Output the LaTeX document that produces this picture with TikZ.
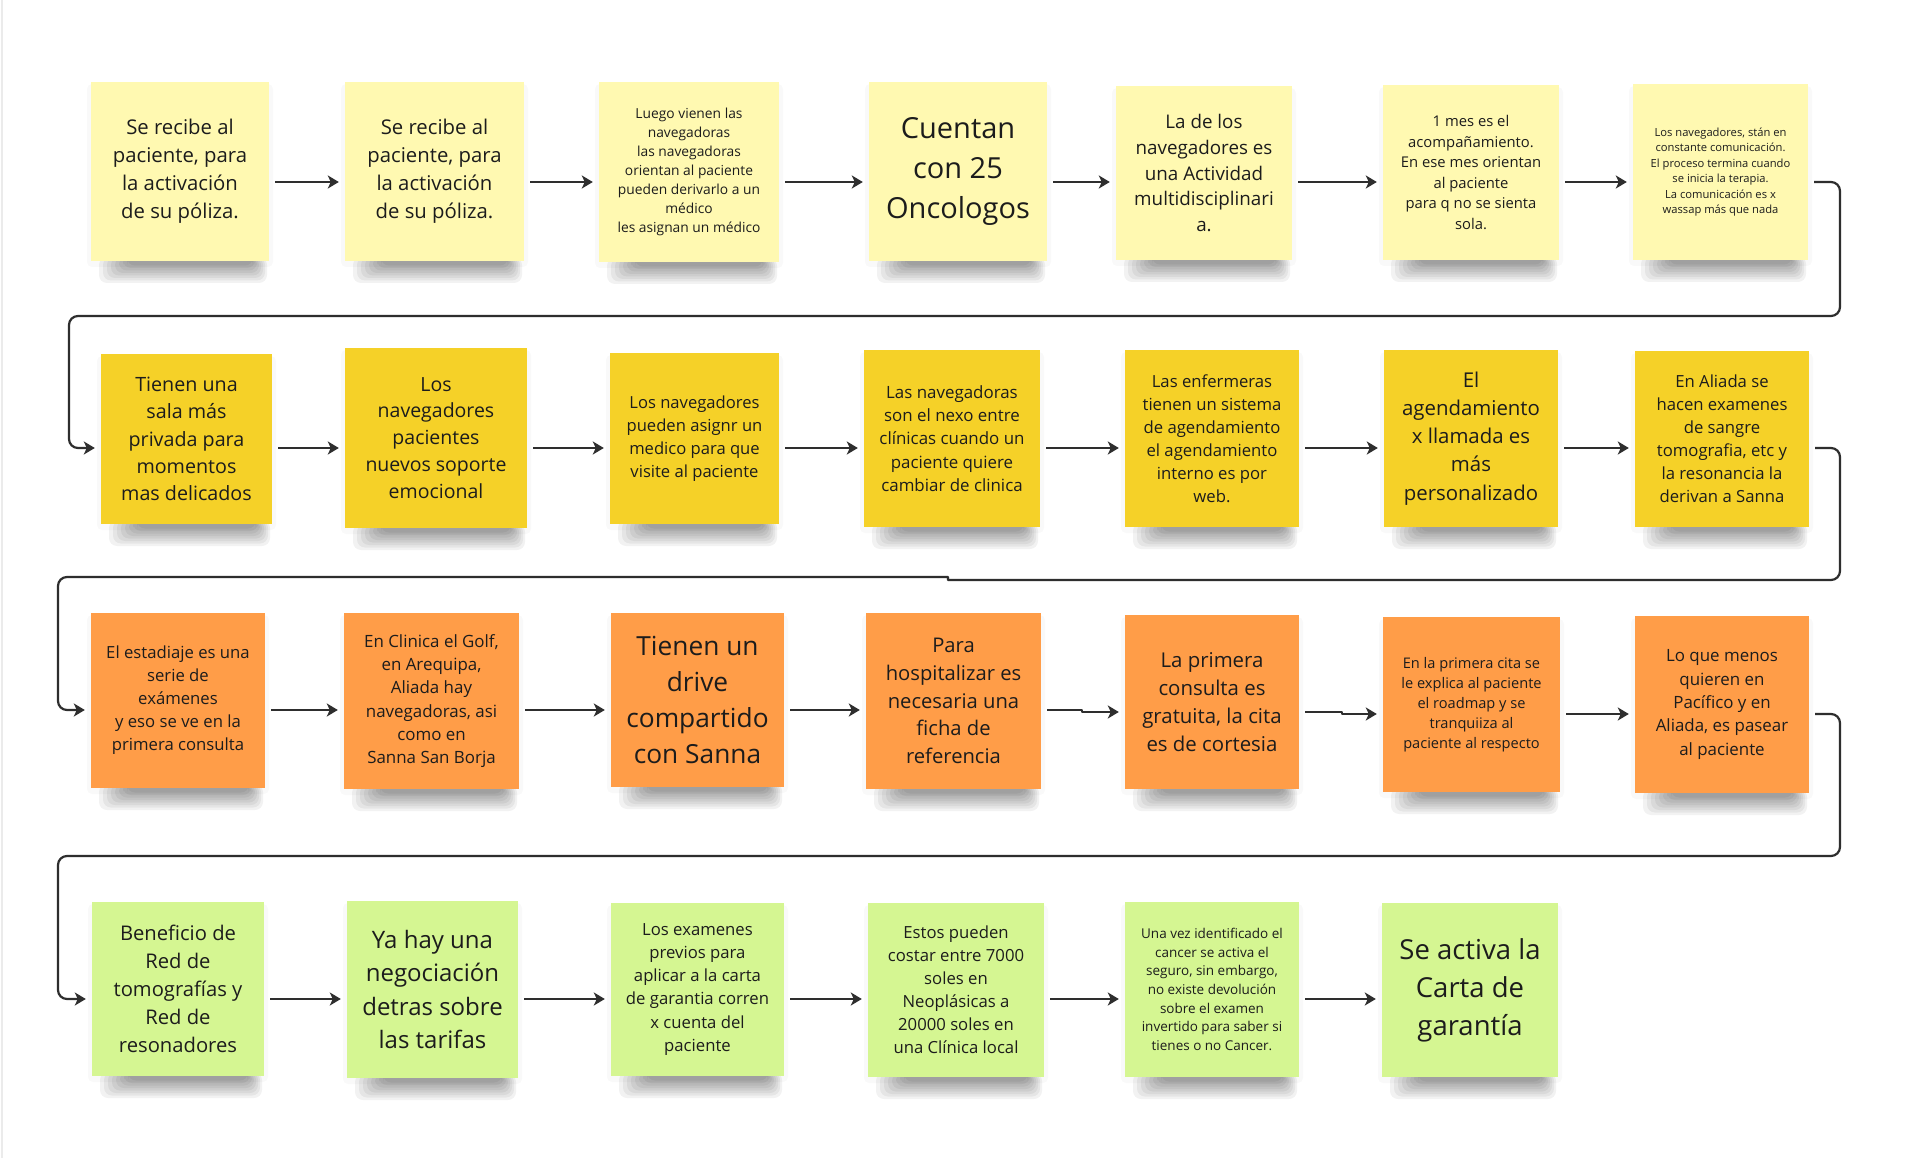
\documentclass[tikz,border=0pt]{standalone}
\usepackage{fontspec}
\setmainfont{Open Sans}
\usetikzlibrary{arrows.meta}
\definecolor{pale}{HTML}{FFF9B1}
\definecolor{yel}{HTML}{F5D128}
\definecolor{ora}{HTML}{FF9D48}
\definecolor{grn}{HTML}{D5F692}
\definecolor{ink}{HTML}{1C1C1C}
\definecolor{wire}{HTML}{2E2E2E}
\definecolor{edge}{HTML}{EBEBEB}
\tikzset{
  stickynote/.style={inner sep=0pt, align=center, text=ink},
  arr/.style={draw=wire, line width=2.2pt, line join=round,
    -{Stealth[length=11pt,width=13pt,inset=3pt]}, shorten <=6pt, shorten >=6pt},
  shadowlayer/.style={fill=black, opacity=0.05, rounded corners=8pt},
  halo/.style={fill=black, opacity=0.025, rounded corners=5pt}
}
\newcommand\mknote[8]{%
  \fill[halo] ({#2-4},{#3+2}) rectangle ({#4+4},{#5+6});
  \foreach \i in {0,...,7}{%
    \fill[shadowlayer] ({#2+8+4*\i},{#5-4}) rectangle ({#4-2-2*\i},{#5+22-2.5*\i});
  }%
  \pgfmathsetmacro\lsk{#7*1.38}%
  \node[stickynote, fill=#6, minimum width={(#4-#2)*1pt}, minimum height={(#5-#3)*1pt},
        font={\fontsize{#7pt}{\lsk pt}\selectfont}] (#1) at ({(#2+#4)/2},{(#3+#5)/2}) {#8};
}
\begin{document}
\begin{tikzpicture}[x=1pt,y=-1pt]
\useasboundingbox (0,0) rectangle (1920,1158);
\fill[white] (0,0) rectangle (1920,1158);
\draw[edge, line width=2pt] (1.5,0) -- (1.5,1158);

% row 1
\mknote{n11}{91}{82}{269}{261}{pale}{20.3}{Se recibe al\\paciente, para\\la activación\\de su póliza.}
\mknote{n12}{345}{82}{524}{261}{pale}{20.3}{Se recibe al\\paciente, para\\la activación\\de su póliza.}
\mknote{n13}{599}{82}{779}{262}{pale}{13.8}{Luego vienen las\\navegadoras\\las navegadoras\\orientan al paciente\\pueden derivarlo a un\\médico\\les asignan un médico}
\mknote{n14}{869}{82}{1047}{261}{pale}{29}{Cuentan\\con 25\\Oncologos}
\mknote{n15}{1116}{86}{1292}{260}{pale}{18.8}{La de los\\navegadores es\\una Actividad\\multidisciplinari\\a.}
\mknote{n16}{1383}{85}{1559}{260}{pale}{14.8}{1 mes es el\\acompañamiento.\\En ese mes orientan\\al paciente\\para q no se sienta\\sola.}
\mknote{n17}{1633}{84}{1808}{260}{pale}{11.2}{Los navegadores, stán en\\constante comunicación.\\El proceso termina cuando\\se inicia la terapia.\\La comunicación es x\\wassap más que nada}

% row 2
\mknote{n21}{101}{354}{272}{524}{yel}{19.7}{Tienen una\\sala más\\privada para\\momentos\\mas delicados}
\mknote{n22}{345}{348}{527}{528}{yel}{19.5}{Los\\navegadores\\pacientes\\nuevos soporte\\emocional}
\mknote{n23}{610}{353}{779}{524}{yel}{16.6}{Los navegadores\\pueden asignr un\\medico para que\\visite al paciente}
\mknote{n24}{864}{350}{1040}{527}{yel}{16.9}{Las navegadoras\\son el nexo entre\\clínicas cuando un\\paciente quiere\\cambiar de clinica}
\mknote{n25}{1125}{350}{1299}{527}{yel}{16.7}{Las enfermeras\\tienen un sistema\\de agendamiento\\el agendamiento\\interno es por\\web.}
\mknote{n26}{1384}{350}{1558}{527}{yel}{20.4}{El\\agendamiento\\x llamada es\\más\\personalizado}
\mknote{n27}{1635}{351}{1809}{527}{yel}{16.7}{En Aliada se\\hacen examenes\\de sangre\\tomografia, etc y\\la resonancia la\\derivan a Sanna}

% row 3
\mknote{n31}{91}{613}{265}{788}{ora}{16.7}{El estadiaje es una\\serie de\\exámenes\\y eso se ve en la\\primera consulta}
\mknote{n32}{344}{613}{519}{789}{ora}{16.9}{En Clinica el Golf,\\en Arequipa,\\Aliada hay\\navegadoras, asi\\como en\\Sanna San Borja}
\mknote{n33}{611}{613}{784}{787}{ora}{26.3}{Tienen un\\drive\\compartido\\con Sanna}
\mknote{n34}{866}{613}{1041}{789}{ora}{20.2}{Para\\hospitalizar es\\necesaria una\\ficha de\\referencia}
\mknote{n35}{1125}{615}{1299}{789}{ora}{20.4}{La primera\\consulta es\\gratuita, la cita\\es de cortesia}
\mknote{n36}{1383}{617}{1560}{792}{ora}{14.6}{En la primera cita se\\le explica al paciente\\el roadmap y se\\tranquiiza al\\paciente al respecto}
\mknote{n37}{1635}{616}{1809}{793}{ora}{16.9}{Lo que menos\\quieren en\\Pacífico y en\\Aliada, es pasear\\al paciente}

% row 4
\mknote{n41}{92}{902}{264}{1076}{grn}{20.2}{Beneficio de\\Red de\\tomografías y\\Red de\\resonadores}
\mknote{n42}{347}{901}{518}{1078}{grn}{24}{Ya hay una\\negociación\\detras sobre\\las tarifas}
\mknote{n43}{611}{903}{784}{1076}{grn}{16.7}{Los examenes\\previos para\\aplicar a la carta\\de garantia corren\\x cuenta del\\paciente}
\mknote{n44}{868}{903}{1044}{1077}{grn}{16.7}{Estos pueden\\costar entre 7000\\soles en\\Neoplásicas a\\20000 soles en\\una Clínica local}
\mknote{n45}{1125}{902}{1299}{1077}{grn}{13.5}{Una vez identificado el\\cancer se activa el\\seguro, sin embargo,\\no existe devolución\\sobre el examen\\invertido para saber si\\tienes o no Cancer.}
\mknote{n46}{1382}{903}{1558}{1077}{grn}{27.5}{Se activa la\\Carta de\\garantía}

% row levels
\coordinate (r1) at (0,182);
\coordinate (r2) at (0,448);
\coordinate (r3a) at (0,710);
\coordinate (r3b) at (0,712);
\coordinate (r3c) at (0,714);
\coordinate (r4) at (0,999);

% row 1 arrows
\draw[arr] (n11.east|-r1) -- (n12.west|-r1);
\draw[arr] (n12.east|-r1) -- (n13.west|-r1);
\draw[arr] (n13.east|-r1) -- (n14.west|-r1);
\draw[arr] (n14.east|-r1) -- (n15.west|-r1);
\draw[arr] (n15.east|-r1) -- (n16.west|-r1);
\draw[arr] (n16.east|-r1) -- (n17.west|-r1);
\draw[arr, rounded corners=9pt] (n17.east|-r1) -- (1840,182) -- (1840,316) -- (69,316) -- (69,448) -- (n21.west|-r2);

% row 2 arrows
\draw[arr] (n21.east|-r2) -- (n22.west|-r2);
\draw[arr] (n22.east|-r2) -- (n23.west|-r2);
\draw[arr] (n23.east|-r2) -- (n24.west|-r2);
\draw[arr] (n24.east|-r2) -- (n25.west|-r2);
\draw[arr] (n25.east|-r2) -- (n26.west|-r2);
\draw[arr] (n26.east|-r2) -- (n27.west|-r2);
\draw[arr] (n27.east|-r2) [rounded corners=9pt] -- (1840,448) -- (1840,580) [sharp corners] -- (948,580) -- (948,577) [rounded corners=9pt] -- (58,577) -- (58,710) -- (n31.west|-r3a);

% row 3 arrows
\draw[arr] (n31.east|-r3a) -- (n32.west|-r3a);
\draw[arr] (n32.east|-r3a) -- (n33.west|-r3a);
\draw[arr] (n33.east|-r3a) -- (n34.west|-r3a);
\draw[arr] (n34.east|-r3a) -- (1082,710) -- (1082,712) -- (n35.west|-r3b);
\draw[arr] (n35.east|-r3b) -- (1342,712) -- (1342,714) -- (n36.west|-r3c);
\draw[arr] (n36.east|-r3c) -- (n37.west|-r3c);
\draw[arr, rounded corners=9pt] (n37.east|-r3c) -- (1840,714) -- (1840,856) -- (58,856) -- (58,999) -- (n41.west|-r4);

% row 4 arrows
\draw[arr] (n41.east|-r4) -- (n42.west|-r4);
\draw[arr] (n42.east|-r4) -- (n43.west|-r4);
\draw[arr] (n43.east|-r4) -- (n44.west|-r4);
\draw[arr] (n44.east|-r4) -- (n45.west|-r4);
\draw[arr] (n45.east|-r4) -- (n46.west|-r4);
\end{tikzpicture}
\end{document}
